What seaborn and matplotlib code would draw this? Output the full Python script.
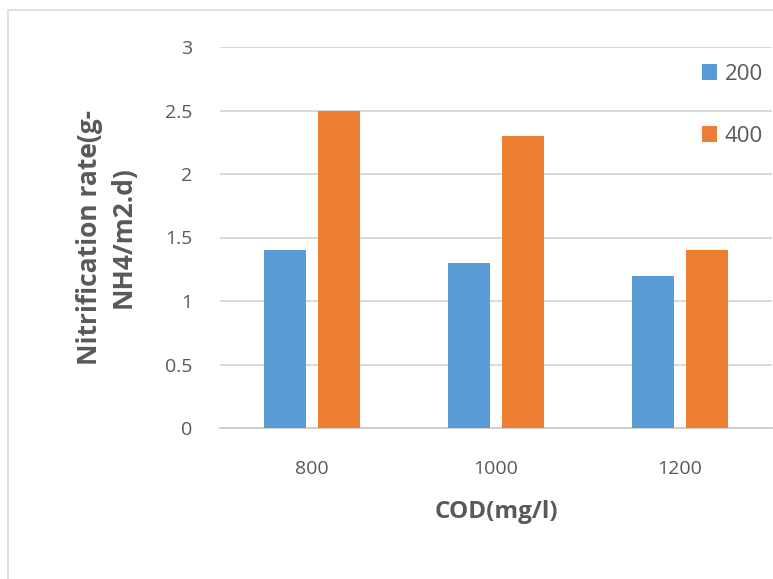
import matplotlib
matplotlib.use("Agg")
import matplotlib.pyplot as plt
import seaborn as sns
import pandas as pd
from matplotlib.patches import Rectangle

categories = ["800", "1000", "1200"]
series_names = ["200", "400"]
values_200 = [1.4, 1.3, 1.2]
values_400 = [2.5, 2.3, 1.4]
yticks = [0, 0.5, 1, 1.5, 2, 2.5, 3]
ytick_labels = ["0", "0.5", "1", "1.5", "2", "2.5", "3"]

df = pd.DataFrame({
    "COD": categories * 2,
    "series": [series_names[0]] * 3 + [series_names[1]] * 3,
    "rate": values_200 + values_400,
})

sns.set_theme(style="white")
plt.rcParams["font.family"] = ["Open Sans", "DejaVu Sans"]

fig = plt.figure(figsize=(7.73, 5.79), dpi=100)
ax = fig.add_axes([220 / 773, 1 - 428 / 579, 552 / 773, 381 / 579])

palette = {"200": "#5B9BD5", "400": "#ED7D31"}
sns.barplot(data=df, x="COD", y="rate", hue="series", order=categories,
            hue_order=series_names, palette=palette, width=0.587, gap=0.22,
            saturation=1, ax=ax, zorder=3, edgecolor="none")

ax.set_xlim(-0.5, 2.5)
ax.set_ylim(0, 3)
ax.set_yticks(yticks)
ax.set_yticklabels(ytick_labels)
ax.yaxis.grid(True, color="#d9d9d9", linewidth=1.4, zorder=0)
ax.set_axisbelow(True)
for s in ["top", "right", "left"]:
    ax.spines[s].set_visible(False)
ax.spines["bottom"].set_color("#d0d0d0")
ax.spines["bottom"].set_linewidth(1.4)
ax.tick_params(axis="both", length=0, labelsize=14, labelcolor="#595959")
ax.tick_params(axis="y", pad=20)
ax.tick_params(axis="x", pad=23)

ax.set_xlabel("COD(mg/l)", fontsize=17.5, fontweight="bold", color="#595959", labelpad=16)
ax.set_ylabel("Nitrification rate(g-\nNH4/m2.d)", fontsize=19, fontweight="bold",
              color="#595959", labelpad=20, linespacing=1.35)

leg = ax.legend(loc="upper right", bbox_to_anchor=(1.0, 0.98), frameon=False,
                fontsize=16, labelspacing=1.85, handlelength=0.7, handleheight=0.7,
                handletextpad=0.35, borderaxespad=0)
for t in leg.get_texts():
    t.set_color("#595959")

fig.patches.append(Rectangle((8 / 773, -0.1), 1.2, 1 - 10 / 579 + 0.1,
                             transform=fig.transFigure, fill=False,
                             edgecolor="#d9d9d9", linewidth=1.2))

fig.savefig("out.png", dpi=100)
